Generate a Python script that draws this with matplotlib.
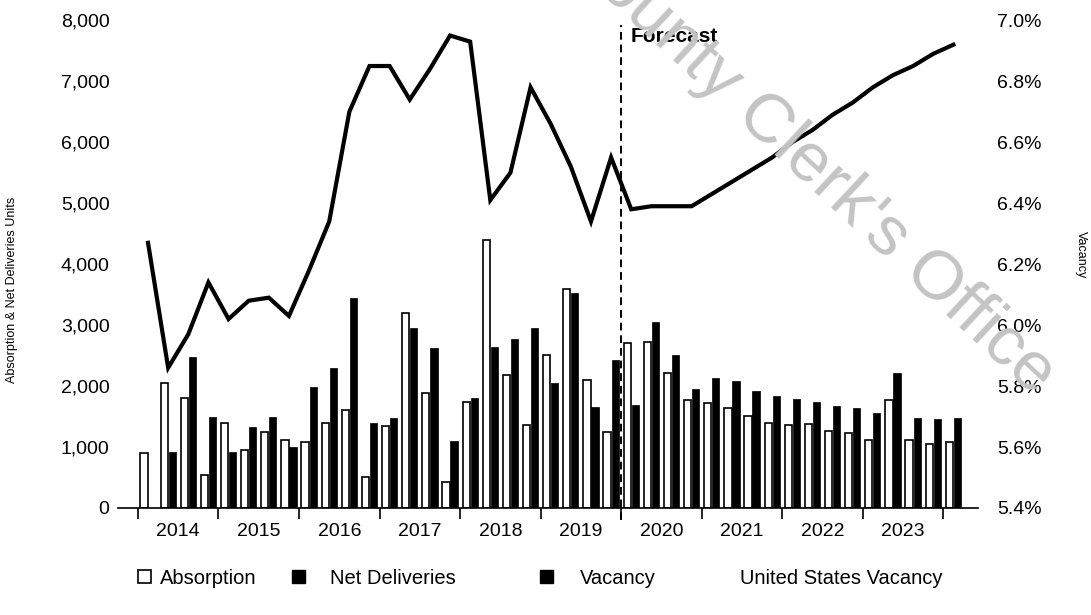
import matplotlib.pyplot as plt
from matplotlib.patches import Patch
from matplotlib.lines import Line2D
from matplotlib.ticker import FuncFormatter
import numpy as np

plt.rcParams['font.family'] = ['Liberation Sans', 'DejaVu Sans']

# quarterly series, 2014 Q1 .. 2024 Q1
absorption = [900, 2050, 1800, 540, 1390, 950, 1250, 1110, 1080, 1390,
              1610, 510, 1340, 3200, 1880, 430, 1740, 4400, 2180, 1360,
              2510, 3600, 2100, 1240, 2700, 2720, 2220, 1770, 1720, 1640,
              1510, 1390, 1360, 1380, 1270, 1230, 1110, 1770, 1110, 1050,
              1080]
net_deliveries = [0, 920, 2480, 1490, 920, 1330, 1490, 1000, 1980, 2290,
                  3440, 1390, 1470, 2960, 2620, 1100, 1810, 2640, 2780, 2960,
                  2050, 3520, 1660, 2430, 1690, 3050, 2510, 1960, 2130, 2080,
                  1920, 1840, 1790, 1740, 1670, 1640, 1560, 2210, 1480, 1460,
                  1470]
vacancy = [6.27, 5.86, 5.97, 6.14, 6.02, 6.08, 6.09, 6.03, 6.18, 6.34,
           6.70, 6.85, 6.85, 6.74, 6.84, 6.95, 6.93, 6.41, 6.50, 6.78,
           6.66, 6.52, 6.34, 6.55, 6.38, 6.39, 6.39, 6.39, 6.43, 6.47,
           6.51, 6.55, 6.60, 6.64, 6.69, 6.73, 6.78, 6.82, 6.85, 6.89,
           6.92]
years = [2014, 2015, 2016, 2017, 2018, 2019, 2020, 2021, 2022, 2023]
forecast_start = 24  # first forecast quarter (2020 Q1)

q = np.arange(len(vacancy))

fig = plt.figure(figsize=(10.91, 6.15), dpi=100)
ax = fig.add_axes([0.108, 0.174, 0.788, 0.793])
ax2 = ax.twinx()

w = 0.36
ax.bar(q - 0.2, absorption, width=w, color='white', edgecolor='black', linewidth=1.2)
ax.bar(q + 0.2, net_deliveries, width=w, color='black', edgecolor='black', linewidth=0.5)

ax2.plot(q, vacancy, color='black', lw=3, solid_joinstyle='miter')

ax.set_xlim(-1.5, 41.2)
ax.set_ylim(0, 8000)
ax2.set_ylim(5.4, 7.0)

# year boundaries get tick marks, year names sit between them
ax.set_xticks([4 * k - 0.5 for k in range(len(years) + 1)])
ax.set_xticklabels([])
ax.set_xticks([4 * k + 1.5 for k in range(len(years))], minor=True)
ax.set_xticklabels([str(y) for y in years], minor=True)
ax.tick_params(axis='x', which='major', length=8, width=1.2, direction='out')
ax.tick_params(axis='x', which='minor', length=0, labelsize=14, pad=11)

ax.set_yticks(range(0, 8001, 1000))
ax.yaxis.set_major_formatter(FuncFormatter(lambda v, p: f'{int(v):,}'))
ax.tick_params(axis='y', length=0, labelsize=14, pad=6)
ax2.set_yticks(np.arange(5.4, 7.01, 0.2))
ax2.yaxis.set_major_formatter(FuncFormatter(lambda v, p: f'{v:.1f}%'))
ax2.tick_params(axis='y', length=0, labelsize=14, pad=14)

for a in (ax, ax2):
    for s in ('top', 'left', 'right'):
        a.spines[s].set_visible(False)
ax2.spines['bottom'].set_visible(False)
ax.spines['bottom'].set_linewidth(1.2)

fig.text(12 / 1091, 1 - 290 / 615, 'Absorption & Net Deliveries Units',
         fontsize=9, rotation=90, ha='center', va='center')
fig.text(1081 / 1091, 1 - 255 / 615, 'Vacancy',
         fontsize=9, rotation=270, ha='center', va='center')

# forecast divider
xf = forecast_start - 0.5
ax2.axvline(xf, ymin=-0.025, ymax=0.99, color='black', lw=1.4,
            linestyle=(0, (4, 2.5)), clip_on=False)
ax2.text(xf + 0.45, 0.967, 'Forecast', transform=ax2.get_xaxis_transform(),
         fontsize=15, fontweight='bold', va='center', ha='left')

# legend entries: (handle, label, handle left px, gap to text)
entries = [
    (Patch(facecolor='white', edgecolor='black', linewidth=1.2), 'Absorption', 138, 0.45),
    (Patch(facecolor='black', edgecolor='black'), 'Net Deliveries', 292, 1.25),
    (Patch(facecolor='black', edgecolor='black'), 'Vacancy', 540, 1.35),
    (Line2D([], [], color='white', lw=3), 'United States Vacancy', 700, 1.35),
]
for handle, label, x_px, gap in entries:
    fig.legend([handle], [label], loc='center left',
               bbox_to_anchor=(x_px / 1091, 0.06), frameon=False,
               fontsize=14.5, borderpad=0, borderaxespad=0,
               handlelength=0.65, handleheight=0.65, handletextpad=gap)

fig.text(808 / 1091, 1 - 162 / 615, "County Clerk's Office", fontsize=50,
         color='#c4c4c4', rotation=-43, ha='center', va='center', zorder=10)

fig.savefig('out.png', dpi=100)
